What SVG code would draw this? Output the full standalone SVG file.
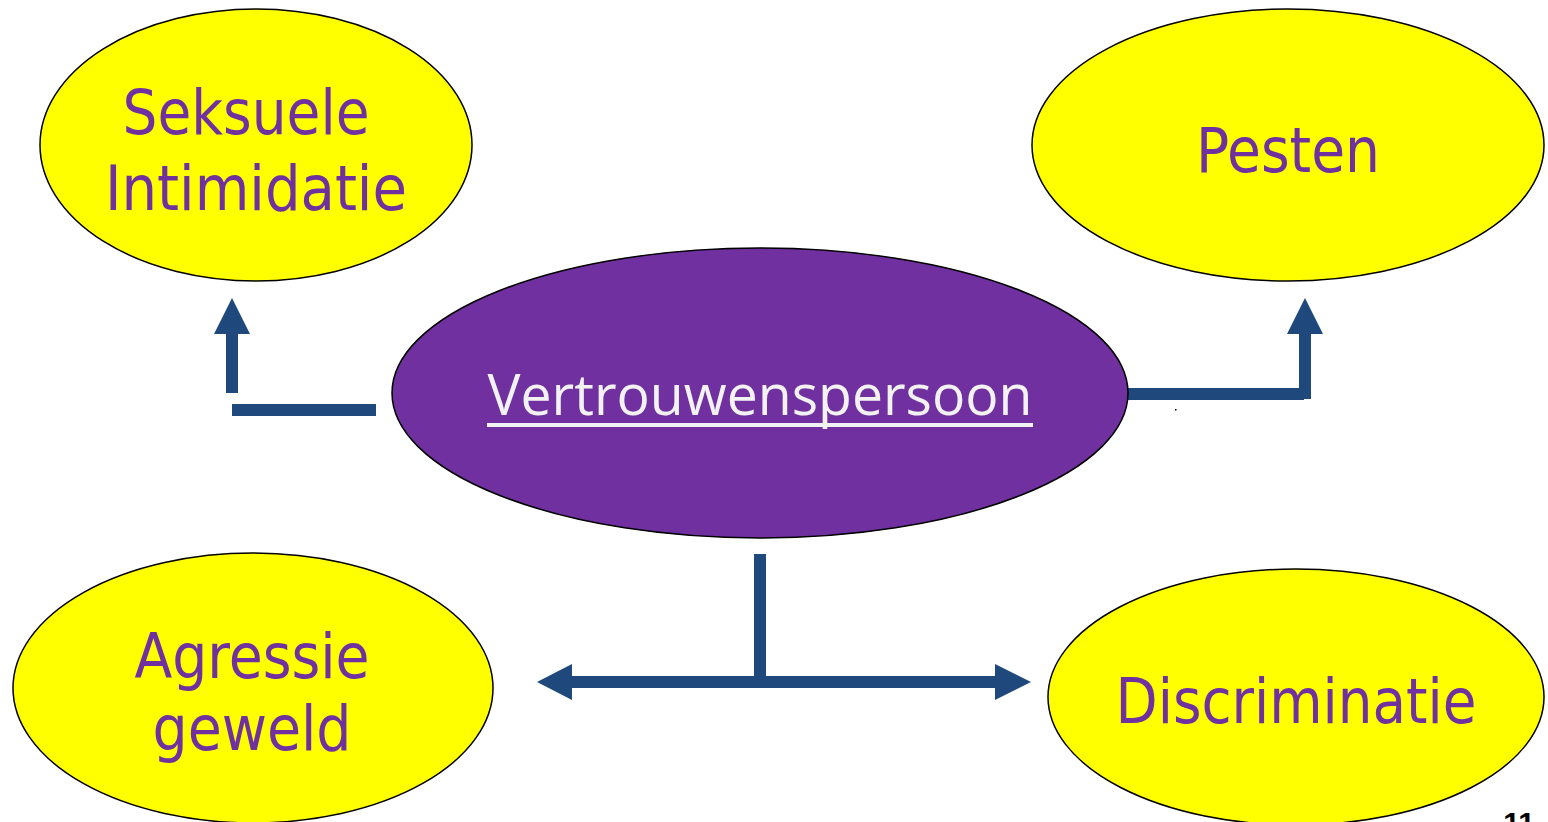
<svg xmlns="http://www.w3.org/2000/svg" width="1548" height="822" viewBox="0 0 1548 822">
<style>
.yel{fill:#FFFF00;stroke:#000;stroke-width:1.5}
.cen{fill:#7030A0;stroke:#000;stroke-width:1.5}
.lbl{font-family:"DejaVu Sans Condensed","DejaVu Sans",sans-serif;font-size:62px;fill:#7030A0;text-anchor:middle}
.ctr{font-family:"Open Sans","Noto Sans",sans-serif;font-size:56px;fill:#F2F2F2;text-anchor:middle}
.ln{stroke:#1F497D;stroke-width:12;fill:none}
.hd{fill:#1F497D}
</style>
<rect width="1548" height="822" fill="#FFFFFF"/>
<g id="connectors">
<line class="ln" x1="232" y1="410" x2="376" y2="410"/>
<line class="ln" x1="232" y1="393" x2="232" y2="332"/>
<polygon class="hd" points="214,334 250,334 232,298"/>
<line class="ln" x1="1128" y1="394" x2="1304" y2="394"/>
<line class="ln" x1="1305" y1="399" x2="1305" y2="332"/>
<polygon class="hd" points="1287,334 1323,334 1305,298"/>
<line class="ln" x1="760" y1="554" x2="760" y2="682"/>
<line class="ln" x1="570" y1="682" x2="997" y2="682"/>
<polygon class="hd" points="572,664 572,700 537,682"/>
<polygon class="hd" points="995,664 995,700 1031,682"/>
<rect x="1175" y="409" width="1.5" height="1.5" fill="#000"/>
</g>
<g id="seksuele">
<ellipse class="yel" cx="256" cy="145" rx="216" ry="136"/>
<text class="lbl" x="246" y="134" textLength="247" lengthAdjust="spacingAndGlyphs">Seksuele</text>
<text class="lbl" x="256" y="210" textLength="302" lengthAdjust="spacingAndGlyphs">Intimidatie</text>
</g>
<g id="pesten">
<ellipse class="yel" cx="1288" cy="145" rx="256" ry="136"/>
<text class="lbl" x="1288" y="172" textLength="184" lengthAdjust="spacingAndGlyphs">Pesten</text>
</g>
<g id="vertrouwenspersoon">
<ellipse class="cen" cx="760" cy="393" rx="368" ry="145"/>
<text class="ctr" x="760" y="415" textLength="545" lengthAdjust="spacingAndGlyphs">Vertrouwenspersoon</text>
<rect x="487" y="423" width="546" height="4" fill="#F2F2F2"/>
</g>
<g id="agressie">
<ellipse class="yel" cx="253" cy="688" rx="240" ry="135"/>
<text class="lbl" x="252" y="678" textLength="235" lengthAdjust="spacingAndGlyphs">Agressie</text>
<text class="lbl" x="252" y="750" textLength="199" lengthAdjust="spacingAndGlyphs">geweld</text>
</g>
<g id="discriminatie">
<ellipse class="yel" cx="1296" cy="697" rx="248" ry="128"/>
<text class="lbl" x="1296" y="723" textLength="361" lengthAdjust="spacingAndGlyphs">Discriminatie</text>
</g>
<text x="1519" y="833" font-family="Liberation Sans,Arial,sans-serif" font-weight="bold" font-size="30" fill="#000" text-anchor="middle">11</text>
</svg>
